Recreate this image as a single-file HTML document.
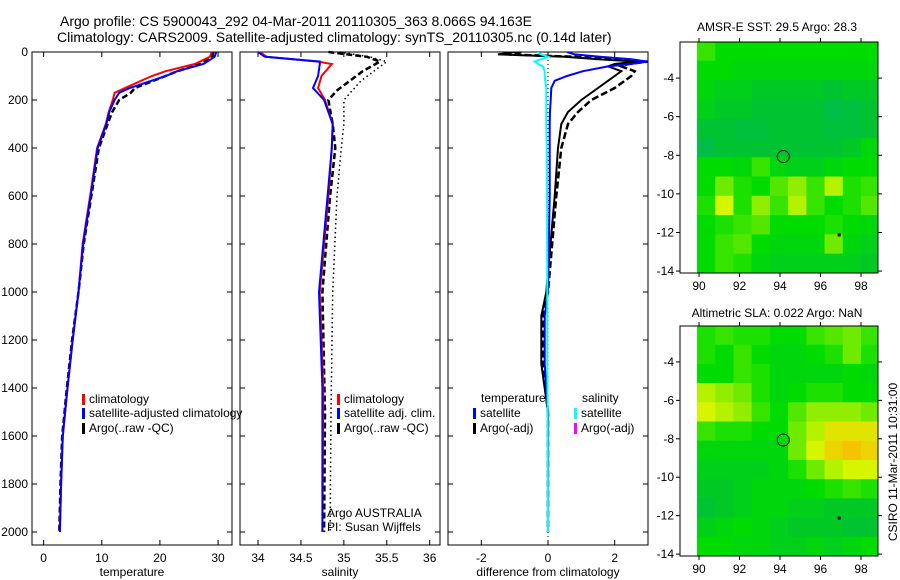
<!DOCTYPE html>
<html><head><meta charset="utf-8"><style>
body{margin:0;background:#fff;}
svg{display:block;font-family:"Liberation Sans",sans-serif;}
</style></head><body>
<svg id="fig" width="900" height="580" viewBox="0 0 900 580">
<text x="60" y="26" font-size="14" text-anchor="start">Argo profile: CS 5900043_292 04-Mar-2011 20110305_363 8.066S 94.163E</text>
<text x="57" y="42" font-size="14" text-anchor="start">Climatology: CARS2009. Satellite-adjusted climatology: synTS_20110305.nc (0.14d later)</text>
<text x="777" y="31" font-size="12" text-anchor="middle">AMSR-E SST: 29.5 Argo: 28.3</text>
<text x="777" y="317" font-size="12" text-anchor="middle">Altimetric SLA: 0.022 Argo: NaN</text>
<text transform="translate(897,462) rotate(-90)" font-size="12" text-anchor="middle">CSIRO 11-Mar-2011 10:31:00</text>
</svg>
<script>
// ---- profile data ----
const tDepth = [0,20,50,80,100,150,170,200,250,300,400,600,800,1000,1200,1400,1600,1800,2000];
const tClim  = [28.9,28.6,26,21,18.6,14,12.2,11.9,11.2,10.7,9.2,8,6.7,6.0,5.0,4.1,3.3,3.0,2.8];
const tSat   = [29.7,29.4,27.5,23,21,14.8,13,12.2,11.3,10.8,9.3,8.1,6.8,6.0,5.0,4.1,3.3,3.0,2.8];
const tArgo  = [29.2,29.0,27,23,21,15.7,15,13,11.8,11.0,9.5,8.2,6.9,6.0,4.9,4.0,3.2,2.9,2.7];
const sDepth = [0,20,40,50,100,150,200,300,400,600,1000,1400,2000];
const sClim  = [34.02,34.1,34.7,34.86,34.74,34.70,34.78,34.87,34.86,34.82,34.72,34.76,34.75];
const sSat   = [34.0,34.08,34.72,34.72,34.70,34.64,34.77,34.87,34.86,34.81,34.71,34.75,34.75];
const aDepth = [0,20,40,80,120,160,200,300,400,600,1000,1500,2000];
const sArgo  = [34.82,35.27,35.42,35.22,35.07,34.92,34.82,34.87,34.9,34.84,34.75,34.78,34.77];
const sArgoRaw=[34.95,35.3,35.5,35.35,35.2,35.1,35.0,35.0,34.97,34.92,34.87,34.85,34.84];
const dDepth = [0,10,20,30,40,50,60,80,100,120,150,200,250,300,400,600,1000,1100,1300,1500,2000];
const dTSat  = [0.57,0.8,1.56,2.5,2.97,2.5,1.8,1.05,0.57,0.2,0.1,0.08,0.06,0.05,0.05,0.05,0.0,-0.1,-0.1,0.0,0.0];
const dTArgo = [-1.0,-1.5,0.5,1.5,2.7,2.0,1.8,2.2,2.0,1.8,1.5,1.0,0.6,0.4,0.3,0.2,-0.05,-0.2,-0.2,0.0,0.0];
const dTRaw  = [-0.8,-1.2,0.8,1.8,3.0,2.4,2.2,2.6,2.5,2.3,2.0,1.3,0.9,0.6,0.4,0.25,0.0,-0.15,-0.15,0.0,0.0];
const dSSat  = [-0.33,-0.2,0.0,-0.2,-0.4,-0.3,-0.15,-0.1,-0.1,-0.08,-0.05,-0.05,-0.05,-0.05,-0.04,-0.03,-0.02,-0.02,-0.02,-0.01,0.0];
const depthTicks = [0,200,400,600,800,1000,1200,1400,1600,1800,2000];
const tTicks = [0,10,20,30];
const sTicks = [34,34.5,35,35.5,36];
const sTickLabels = ["34","34.5","35","35.5","36"];
const dTicks = [-2,0,2];
// ---- map data (rows top -2..-14, cols 90..99) ----
const mapLon = [89.9,90.8,91.7,92.6,93.5,94.4,95.3,96.2,97.1,98.0,98.84];
const mapLat = [-2.13,-3.1,-4.1,-5.1,-6.1,-7.1,-8.1,-9.1,-10.1,-11.1,-12.1,-13.1,-14.1];
const sstVals = [
[0.6,0.5,0.5,0.5,0.5,0.5,0.5,0.5,0.5,0.5],
[0.5,0.5,0.45,0.45,0.45,0.45,0.45,0.45,0.45,0.45],
[0.45,0.4,0.4,0.35,0.35,0.35,0.35,0.3,0.35,0.35],
[0.4,0.35,0.35,0.3,0.3,0.3,0.3,0.2,0.25,0.3],
[0.3,0.3,0.25,0.25,0.3,0.3,0.3,0.25,0.25,0.3],
[0.2,0.3,0.3,0.3,0.3,0.3,0.3,0.3,0.35,0.45],
[0.5,0.5,0.45,0.6,0.45,0.4,0.4,0.45,0.5,0.5],
[0.5,0.7,0.55,0.5,0.65,0.75,0.6,0.8,0.55,0.6],
[0.55,0.85,0.55,0.75,0.6,0.8,0.6,0.5,0.55,0.65],
[0.5,0.55,0.6,0.65,0.5,0.5,0.5,0.55,0.5,0.45],
[0.5,0.6,0.65,0.5,0.45,0.45,0.45,0.7,0.45,0.4],
[0.5,0.6,0.55,0.45,0.4,0.4,0.4,0.4,0.4,0.35]];
const slaVals = [
[0.55,0.6,0.55,0.55,0.5,0.5,0.6,0.65,0.7,0.6],
[0.55,0.5,0.6,0.5,0.45,0.45,0.5,0.55,0.7,0.55],
[0.5,0.5,0.6,0.55,0.45,0.45,0.45,0.45,0.5,0.45],
[0.8,0.75,0.7,0.55,0.45,0.5,0.55,0.55,0.5,0.5],
[0.85,0.8,0.75,0.6,0.5,0.65,0.75,0.75,0.75,0.7],
[0.6,0.55,0.55,0.5,0.5,0.7,0.8,0.9,0.9,0.9],
[0.45,0.45,0.45,0.45,0.45,0.7,0.85,0.95,1.0,0.95],
[0.4,0.4,0.4,0.4,0.45,0.55,0.7,0.8,0.85,0.85],
[0.35,0.35,0.4,0.45,0.45,0.45,0.5,0.55,0.6,0.55],
[0.3,0.35,0.4,0.45,0.45,0.4,0.4,0.35,0.35,0.35],
[0.4,0.45,0.5,0.45,0.4,0.35,0.35,0.35,0.3,0.3],
[0.5,0.5,0.45,0.45,0.4,0.4,0.45,0.4,0.45,0.5]];
const lonTicks = [90,92,94,96,98];
const latTicks = [-4,-6,-8,-10,-12,-14];
const argoPos = [94.163,-8.066];

const NS='http://www.w3.org/2000/svg';
const svg=document.getElementById('fig');
function el(tag,attrs,parent){const e=document.createElementNS(NS,tag);for(const k in attrs)e.setAttribute(k,attrs[k]);(parent||svg).appendChild(e);return e;}
function txt(x,y,s,size,anchor,name){const t=el('text',{x:x,y:y,'font-size':size,'text-anchor':anchor||'middle'});t.textContent=s;


return t;}
const yD=d=>52+d*0.24;

function panel(x0,x1,xmin,xmax,ticks,labels,xlabel,name,showY){
  const sx=v=>x0+(v-xmin)/(xmax-xmin)*(x1-x0);
  const r=el('rect',{x:x0,y:52,width:x1-x0,height:493,fill:'none',stroke:'#000','stroke-width':1});
  
  
  ticks.forEach((t,i)=>{const x=sx(t);
    el('line',{x1:x,x2:x,y1:545,y2:540,stroke:'#000'});el('line',{x1:x,x2:x,y1:52,y2:57,stroke:'#000'});
    txt(x,562,labels[i],12,'middle',name+'-x-tick-label');});
  depthTicks.forEach(d=>{const y=yD(d);
    el('line',{x1:x0,x2:x0+5,y1:y,y2:y,stroke:'#000'});el('line',{x1:x1,x2:x1-5,y1:y,y2:y,stroke:'#000'});
    if(showY) txt(x0-4,y+4,String(d),12,'end','depth-tick-label');});
  txt((x0+x1)/2,576,xlabel,12,'middle',name+'-x-axis-title');
  return sx;
}
function line(sx,vals,depths,color,name,dash,w){
  const pts=vals.map((v,i)=>sx(v).toFixed(1)+','+yD(depths[i]).toFixed(1)).join(' ');
  const p=el('polyline',{points:pts,fill:'none',stroke:color,'stroke-width':w||2,'stroke-dasharray':dash||'none'});
  
  
}
function legendMark(x,y,color,label,name){
  el('rect',{x:x,y:y-9,width:3,height:11,fill:color});
  txt(x+7,y,label,12,'start',name);
}
// Panel 1: temperature
const sxT=panel(32,232,-2,32.4,tTicks,tTicks.map(String),'temperature','temperature-panel',true);
line(sxT,tArgo,tDepth,'#000','temp-argo-line','6,3',2.5);
line(sxT,tClim,tDepth,'#f00','temp-climatology-line');
line(sxT,tSat,tDepth,'#00f','temp-satellite-line');
legendMark(82,403,'#f00','climatology','legend-climatology');
legendMark(82,417,'#00f','satellite-adjusted climatology','legend-satellite-adjusted');
legendMark(82,432,'#000','Argo(..raw -QC)','legend-argo');
// Panel 2: salinity
const sxS=panel(240,440,33.79,36.12,sTicks,sTickLabels,'salinity','salinity-panel',false);
line(sxS,sArgoRaw,aDepth,'#000','sal-argo-raw-line','1.5,3',1.5);
line(sxS,sArgo,aDepth,'#000','sal-argo-line','6,3',2.5);
line(sxS,sClim,sDepth,'#f00','sal-climatology-line');
line(sxS,sSat,sDepth,'#00f','sal-satellite-line');
legendMark(337,403,'#f00','climatology','legend-sal-climatology');
legendMark(337,417,'#00f','satellite adj. clim.','legend-sal-satellite');
legendMark(337,432,'#000','Argo(..raw -QC)','legend-sal-argo');
txt(327,517,'Argo AUSTRALIA',12,'start','argo-agency-label');
txt(327,531,'PI: Susan Wijffels',12,'start','pi-label');
// Panel 3: differences
const sxD=panel(448,648,-3,3,dTicks,dTicks.map(String),'difference from climatology','difference-panel',false);
el('line',{x1:sxD(0),x2:sxD(0),y1:52,y2:545,stroke:'#000','stroke-dasharray':'1,3'});
const clip=el('clipPath',{id:'c3'});el('rect',{x:448,y:52,width:200,height:493},clip);
const g3=el('g',{'clip-path':'url(#c3)'});
function line3(vals,color,name,dash,w){const pts=vals.map((v,i)=>sxD(v).toFixed(1)+','+yD(dDepth[i]).toFixed(1)).join(' ');
  const p=el('polyline',{points:pts,fill:'none',stroke:color,'stroke-width':w||2,'stroke-dasharray':dash||'none'},g3);
  
  }
line3(dTRaw,'#000','diff-temp-argo-raw-line','7,3',2.5);
line3(dTArgo,'#000','diff-temp-argo-line',null,2);
line3(dTSat,'#00f','diff-temp-satellite-line',null,2);
line3(dSSat,'#0ff','diff-sal-satellite-line',null,2);
txt(481,402,'temperature',12,'start','legend-temperature-heading');
txt(582,402,'salinity',12,'start','legend-salinity-heading');
legendMark(473,417,'#00f','satellite','legend-diff-temp-satellite');
legendMark(473,432,'#000','Argo(-adj)','legend-diff-temp-argo');
legendMark(574,417,'#0ff','satellite','legend-diff-sal-satellite');
legendMark(574,432,'#f0f','Argo(-adj)','legend-diff-sal-argo');

// ---- maps ----
const stops=[[0,[0,180,110]],[0.3,[0,195,50]],[0.5,[0,220,0]],[0.7,[110,235,0]],[0.85,[215,245,0]],[1,[245,195,0]]];
function cmap(v){for(let i=1;i<stops.length;i++){if(v<=stops[i][0]){const a=stops[i-1],b=stops[i];const f=(v-a[0])/(b[0]-a[0]);
 return 'rgb('+a[1].map((c,k)=>Math.round(c+(b[1][k]-c)*f)).join(',')+')';}}return 'rgb(245,195,0)';}
function map(y0,y1,vals,name){
  const x0=680,x1=878,lonMin=89.06,lonMax=98.84,latTop=-2.13,latBot=-14.1;
  const sx=v=>x0+(v-lonMin)/(lonMax-lonMin)*(x1-x0);
  const sy=v=>y0+(v-latTop)/(latBot-latTop)*(y1-y0);
  const g=el('g',{});
  
  
  vals.forEach((row,r)=>row.forEach((v,c)=>{
    const xa=sx(mapLon[c]),xb=sx(mapLon[c+1]),ya=sy(mapLat[r]),yb=sy(mapLat[r+1]);
    const cell=el('rect',{x:xa,y:ya,width:xb-xa+0.5,height:yb-ya+0.5,fill:cmap(v)},g);
    
    
  }));
  el('rect',{x:x0,y:y0,width:x1-x0,height:y1-y0,fill:'none',stroke:'#000'});
  lonTicks.forEach(t=>{const x=sx(t);el('line',{x1:x,x2:x,y1:y1,y2:y1+4,stroke:'#000'});el('line',{x1:x,x2:x,y1:y0,y2:y0-4,stroke:'#000'});
    txt(x,y1+17,String(t),12,'middle',name+'-lon-label');});
  latTicks.forEach(t=>{const y=sy(t);el('line',{x1:x0,x2:x0-4,y1:y,y2:y,stroke:'#000'});el('line',{x1:x1,x2:x1+4,y1:y,y2:y,stroke:'#000'});
    txt(x0-6,y+4,String(t),12,'end',name+'-lat-label');});
  const c=el('circle',{cx:sx(argoPos[0]),cy:sy(argoPos[1]),r:6,fill:'none',stroke:'#000'});
  
  
  el('rect',{x:sx(96.85),y:sy(-12.05),width:3,height:3,fill:'#000'});
}
map(42,273,sstVals,'sst-map');
map(326,556,slaVals,'sla-map');
</script>
</body></html>
